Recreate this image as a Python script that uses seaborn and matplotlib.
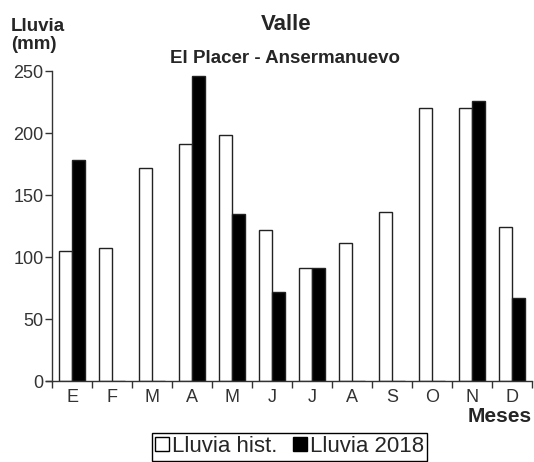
import pandas as pd
import matplotlib.pyplot as plt
from matplotlib.lines import Line2D
import seaborn as sns

meses = ['E', 'F', 'M', 'A', 'M', 'J', 'J', 'A', 'S', 'O', 'N', 'D']
lluvia_hist = [105, 107, 172, 191, 198, 122, 91, 111, 136, 220, 220, 124]
lluvia_2018 = [178, 0, 0, 246, 135, 72, 91, 0, 0, 0, 226, 67]
series = ['Lluvia hist.', 'Lluvia 2018']

df = pd.DataFrame({'mes': list(range(12)) * 2,
                   'lluvia': lluvia_hist + lluvia_2018,
                   'serie': [series[0]] * 12 + [series[1]] * 12})

sns.set_style('white')
plt.rcParams['font.family'] = ['Liberation Sans', 'DejaVu Sans']

fig = plt.figure(figsize=(5.34, 4.62), dpi=100)
ax = fig.add_axes([0.0974, 0.1753, 0.8989, 0.671])

sns.barplot(data=df, x='mes', y='lluvia', hue='serie', hue_order=series,
            palette=['white', 'black'], edgecolor='#222222', linewidth=1,
            width=0.65, legend=False, ax=ax)

ax.set_xlim(-0.5, 11.5)
ax.set_ylim(0, 250)
ax.set_yticks([0, 50, 100, 150, 200, 250])
ax.set_xticks(range(12))
ax.set_xticklabels(meses)
ax.set_xticks([i + 0.5 for i in range(-1, 12)], minor=True)
ax.tick_params(axis='x', which='major', length=0, labelsize=13, colors='#333333', pad=6)
ax.tick_params(axis='x', which='minor', length=5, width=1, color='#333333', direction='out', bottom=True)
ax.tick_params(axis='y', length=5, width=1, color='#333333', labelsize=13,
               labelcolor='#333333', pad=1, left=True, direction='out')
ax.set_xlabel('')
ax.set_ylabel('')
for s in ['top', 'right']:
    ax.spines[s].set_visible(False)
for s in ['left', 'bottom']:
    ax.spines[s].set_color('#333333')
    ax.spines[s].set_linewidth(1)
ax.spines['bottom'].set_bounds(-0.65, 11.5)

fig.text(0.536, 0.948, 'Valle', ha='center', va='center', fontsize=16, fontweight='bold')
fig.text(0.533, 0.874, 'El Placer - Ansermanuevo', ha='center', va='center',
         fontsize=13.5, fontweight='bold')
fig.text(0.02, 0.96, 'Lluvia\n(mm)', ha='left', va='top', fontsize=13.5,
         fontweight='bold', linespacing=1.05)
fig.text(0.996, 0.098, 'Meses', ha='right', va='center', fontsize=15, fontweight='bold')

handles = [Line2D([], [], marker='s', linestyle='', markersize=10,
                  markerfacecolor='white', markeredgecolor='black', markeredgewidth=1),
           Line2D([], [], marker='s', linestyle='', markersize=10,
                  markerfacecolor='black', markeredgecolor='black')]
leg = fig.legend(handles, series, loc='center', bbox_to_anchor=(0.543, 0.033), ncol=2,
                 fontsize=16, frameon=True, fancybox=False, framealpha=1,
                 handlelength=0.6, handletextpad=0.15, columnspacing=0.7,
                 borderpad=0.15, borderaxespad=0)
leg.get_frame().set_edgecolor('black')
leg.get_frame().set_linewidth(1)

fig.savefig('out.png', dpi=100)
